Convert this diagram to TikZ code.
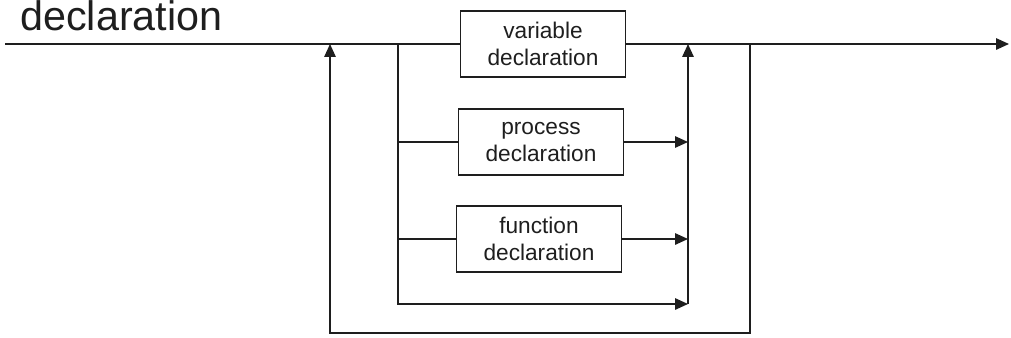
\documentclass[tikz,border=0pt]{standalone}
\usepackage{fontspec}
\setmainfont{Liberation Sans}
\usetikzlibrary{arrows.meta, positioning}
\definecolor{ink}{HTML}{1E1E1E}

\begin{document}
\begin{tikzpicture}[
  x=0.02cm, y=-0.02cm,
  >={Triangle[length=2.6mm, width=2.3mm]},
  rule/.style={draw=ink, line width=0.85pt, minimum width=3.3cm,
    minimum height=1.32cm, inner sep=2pt, align=center, text=ink,
    font=\fontsize{12.9}{15.5}\selectfont},
  line/.style={draw=ink, line width=0.85pt},
]

\useasboundingbox (0,0) rectangle (1011,338);

% Title of the rule
\node[anchor=base west, inner sep=0pt, text=ink,
  font=\fontsize{23.5}{28}\selectfont] (title) at (20,31) {declaration};

% === Alternatives ===
\node[rule] (var)  at (543,44)  {variable\\declaration};
\node[rule] (proc) at (541,142) {process\\declaration};
\node[rule] (func) at (539,239) {function\\declaration};

% junction points on the main line
\coordinate (start) at (5,44);
\coordinate (out)   at (1009,44);
\coordinate (jL) at (330,44);
\coordinate (jB) at (398,44);
\coordinate (jC) at (688,44);
\coordinate (jR) at (750,44);
\coordinate (skip) at (688,304);

% main line
\draw[line] (start) -- (var.west);
\draw[line, ->] (var.east) -- (out);

% branches off to the alternatives
\draw[line] (jB) |- (proc.west);
\draw[line] (jB) |- (func.west);
\draw[line, ->] (jB) |- (skip);

% back into the main line
\draw[line, ->] (proc.east) -- (proc.east -| jC);
\draw[line, ->] (func.east) -- (func.east -| jC);
\draw[line, ->] (skip) -- (jC);

% repetition loop
\draw[line, ->] (jR) -- ++(0,289) -| (jL);

\end{tikzpicture}
\end{document}
